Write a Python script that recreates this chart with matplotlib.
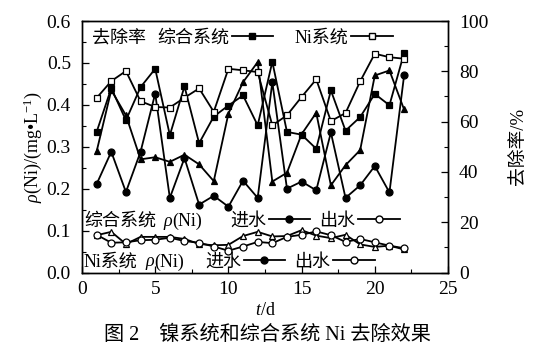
import matplotlib
matplotlib.use("Agg")
import matplotlib.pyplot as plt
from matplotlib.lines import Line2D
from matplotlib.legend import Legend
from matplotlib.ticker import MultipleLocator

plt.rcParams['font.family'] = ['Liberation Serif', 'Noto Sans CJK SC', 'DejaVu Sans']
plt.rcParams['mathtext.fontset'] = 'custom'
plt.rcParams['mathtext.rm'] = 'Liberation Serif'
plt.rcParams['mathtext.it'] = 'Liberation Serif:italic'

days = list(range(1, 23))

# Removal rate (%)
rate_combined = [55.9, 73.3, 60.5, 73.7, 81.0, 54.6, 74.0, 51.4, 62.0, 66.4, 70.4,
                 58.5, 83.8, 55.9, 54.8, 49.2, 72.4, 56.4, 61.8, 71.0, 66.5, 87.3]
rate_ni = [69.4, 76.1, 80.1, 68.1, 65.8, 65.6, 69.5, 73.2, 63.9, 81.0, 80.4,
           79.7, 58.5, 62.5, 69.8, 76.8, 60.2, 63.4, 76.0, 87.0, 85.6, 85.0]

# rho(Ni) mg/L
comb_in = [0.289, 0.435, 0.375, 0.270, 0.275, 0.264, 0.281, 0.258, 0.218, 0.379, 0.454,
           0.502, 0.217, 0.238, 0.330, 0.381, 0.208, 0.256, 0.292, 0.470, 0.482, 0.389]
comb_out = [0.089, 0.097, 0.068, 0.085, 0.085, 0.085, 0.080, 0.068, 0.065, 0.066, 0.087,
            0.097, 0.086, 0.087, 0.101, 0.088, 0.082, 0.090, 0.067, 0.061, 0.064, 0.055]
ni_in = [0.211, 0.288, 0.192, 0.288, 0.427, 0.178, 0.273, 0.162, 0.183, 0.157, 0.219,
         0.178, 0.454, 0.200, 0.217, 0.196, 0.334, 0.178, 0.208, 0.254, 0.191, 0.470]
ni_out = [0.090, 0.071, 0.072, 0.077, 0.078, 0.083, 0.075, 0.071, 0.062, 0.052, 0.062,
          0.073, 0.070, 0.085, 0.090, 0.098, 0.089, 0.073, 0.080, 0.072, 0.064, 0.058]

W, H = 553, 352
fig = plt.figure(figsize=(W / 100, H / 100), dpi=100)
L, R, T, B = 82, 448, 21, 272.5
ax = fig.add_axes([L / W, 1 - B / H, (R - L) / W, (B - T) / H])
ax2 = ax.twinx()

lw = 1.3
ms = 5
kw = dict(color='black', lw=lw, ms=ms, mec='black', mew=0.9)
ax.plot(days, comb_in, marker='^', mfc='black', **kw)
ax.plot(days, ni_in, marker='o', mfc='black', **kw)
ax.plot(days, comb_out, marker='^', mfc='white', **kw)
ax.plot(days, ni_out, marker='o', mfc='white', **kw)
ax2.plot(days, rate_combined, marker='s', mfc='black', **kw)
ax2.plot(days, rate_ni, marker='s', mfc='white', **kw)

ax.set_xlim(0, 25)
ax.set_ylim(0, 0.6)
ax2.set_ylim(0, 100)
ax.xaxis.set_major_locator(MultipleLocator(5))
ax.xaxis.set_minor_locator(MultipleLocator(2.5))
ax.yaxis.set_major_locator(MultipleLocator(0.1))
ax.yaxis.set_minor_locator(MultipleLocator(0.05))
ax2.yaxis.set_major_locator(MultipleLocator(20))
ax2.yaxis.set_minor_locator(MultipleLocator(10))
ax.set_yticks([0, 0.1, 0.2, 0.3, 0.4, 0.5, 0.6])
ax.set_yticklabels(['0.0', '0.1', '0.2', '0.3', '0.4', '0.5', '0.6'])

tfs = 14
ax.tick_params(axis='both', which='both', direction='in', labelsize=tfs, top=False, right=False)
ax.tick_params(axis='x', pad=6)
ax.tick_params(axis='y', pad=8)
ax.tick_params(which='major', length=5, width=0.9)
ax.tick_params(which='minor', length=3, width=0.8)
ax2.tick_params(axis='y', which='both', direction='in', labelsize=tfs, pad=8)
ax2.tick_params(which='major', length=5, width=0.9)
ax2.tick_params(which='minor', length=3, width=0.8)
for a in (ax, ax2):
    for s in a.spines.values():
        s.set_linewidth(1.0)

ax.set_ylabel(r'$\it{\rho}$(Ni)/(mg•L$^{-1}$)', fontsize=13, labelpad=2)
ax2.set_ylabel('去除率/%', fontsize=13.5, labelpad=16)
ax.set_xlabel(r'$\it{t}$/d', fontsize=13, labelpad=3)

# legends
lfs = 13


def axc(px, py):
    return ((px - L) / (R - L), (B - py) / (B - T))


def handle(marker, fill):
    return Line2D([], [], color='black', lw=lw, marker=marker, ms=ms, mfc=fill, mec='black')


def put(px, py, s, **k):
    x, y = axc(px, py)
    ax.text(x, y, s, transform=ax.transAxes, fontsize=lfs, va='center', ha='left', **k)


def leg(px, py, handles, labels, colsp=0.5):
    lg = Legend(ax, handles, labels, loc='center left', bbox_to_anchor=axc(px, py),
                bbox_transform=ax.transAxes, ncol=2, frameon=False, markerfirst=False,
                fontsize=lfs, handlelength=2.3, handletextpad=0.15, columnspacing=colsp,
                borderpad=0, borderaxespad=0)
    ax.add_artist(lg)


put(92, 38, '去除率')
leg(157, 38, [handle('s', 'black'), handle('s', 'white')], ['综合系统', 'Ni系统'], colsp=1.2)

put(84, 221, '综合系统')
put(163, 221, 'ρ', style='italic')
put(172, 221, '(Ni)')
leg(230, 221, [handle('o', 'black'), handle('o', 'white')], ['进水', '出水'])

put(84, 262, 'Ni系统')
put(145, 262, 'ρ', style='italic')
put(154, 262, '(Ni)')
leg(205, 262, [handle('o', 'black'), handle('o', 'white')], ['进水', '出水'])

fig.text(267 / W, 1 - 335 / H, '图 2    镍系统和综合系统 Ni 去除效果', ha='center', va='center',
         fontsize=14.5, weight='medium', family=['Liberation Serif', 'Noto Sans CJK SC'])

fig.savefig('out.png', dpi=100)
